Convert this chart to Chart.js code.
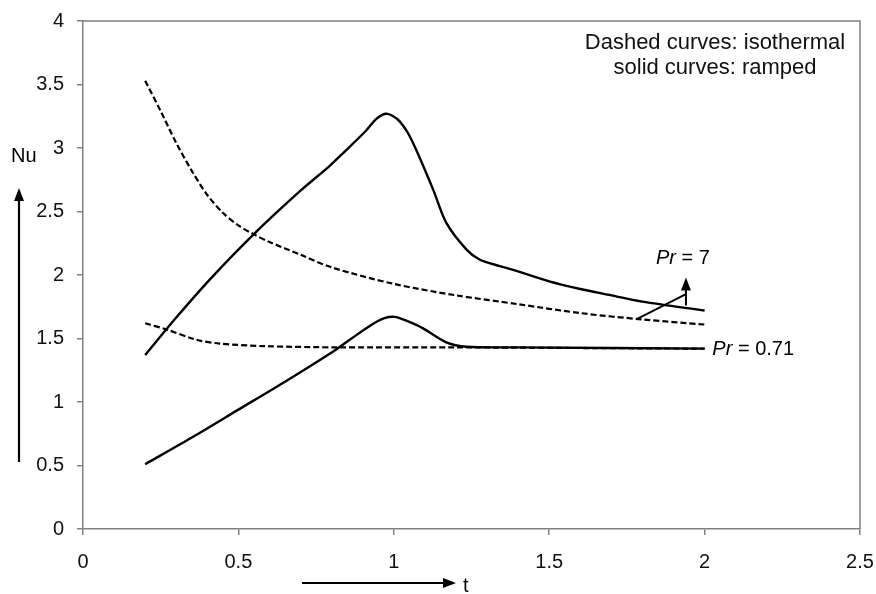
<!DOCTYPE html>
<html>
<head>
<meta charset="utf-8">
<script src="https://cdn.jsdelivr.net/npm/chart.js@4.4.1/dist/chart.umd.min.js"></script>
<style>
  html, body { margin: 0; padding: 0; background: #fff; }
  #wrap { width: 876px; height: 594px; }
</style>
</head>
<body>
<div id="wrap"><canvas id="nuChart" width="876" height="594"></canvas></div>
<script>
/* ---- data ---- */
// isothermal (dashed), Pr = 7
const tIsoPr7  = [0.2, 0.25, 0.3, 0.35, 0.4, 0.45, 0.5, 0.55, 0.6, 0.7, 0.8, 1.0, 1.2, 1.4, 1.6, 1.8, 2.0];
const nuIsoPr7 = [3.53, 3.29, 3.04, 2.82, 2.63, 2.49, 2.39, 2.32, 2.26, 2.16, 2.06, 1.93, 1.84, 1.77, 1.70, 1.65, 1.61];
// isothermal (dashed), Pr = 0.71
const tIsoPr071  = [0.2, 0.27, 0.365, 0.44, 0.58, 0.826, 1.2, 1.6, 2.0];
const nuIsoPr071 = [1.62, 1.57, 1.49, 1.46, 1.44, 1.43, 1.43, 1.425, 1.42];
// ramped (solid), Pr = 7
const tRampPr7  = [0.2, 0.3, 0.41, 0.553, 0.698, 0.794, 0.837, 0.912, 0.944, 0.974, 0.998, 1.019, 1.045, 1.073, 1.127, 1.169, 1.234, 1.277, 1.341, 1.384, 1.5, 1.6, 1.7, 1.8, 2.0];
const nuRampPr7 = [1.37, 1.665, 1.97, 2.33, 2.66, 2.86, 2.96, 3.14, 3.23, 3.27, 3.25, 3.21, 3.12, 2.98, 2.67, 2.41, 2.20, 2.12, 2.07, 2.04, 1.95, 1.89, 1.84, 1.79, 1.72];
// ramped (solid), Pr = 0.71
const tRampPr071  = [0.2, 0.35, 0.5, 0.65, 0.8, 0.858, 0.93, 0.97, 1.003, 1.04, 1.094, 1.169, 1.234, 1.4, 2.0];
const nuRampPr071 = [0.51, 0.72, 0.94, 1.16, 1.39, 1.49, 1.61, 1.66, 1.67, 1.64, 1.58, 1.47, 1.435, 1.43, 1.42];

const xTicks = [0, 0.5, 1, 1.5, 2, 2.5];
const yTicks = [0, 0.5, 1, 1.5, 2, 2.5, 3, 3.5, 4];

const FONT = '"Liberation Sans", Arial, sans-serif';
const AXIS_GRAY = '#808080';

function pts(xs, ys) {
    return xs.map((x, i) => ({ x: x, y: ys[i] }));
}

function curve(label, xs, ys, dashed) {
    return {
        label: label,
        data: pts(xs, ys),
        borderColor: '#000',
        borderWidth: dashed ? 2.2 : 2.4,
        borderDash: dashed ? [6, 3] : [],
        pointRadius: 0,
        fill: false,
        tension: 0.3
    };
}

function arrowHead(ctx, x, y, dir) {
    // dir: 'up' or 'right'
    ctx.beginPath();
    if (dir === 'up') {
        ctx.moveTo(x, y);
        ctx.lineTo(x - 5, y + 13);
        ctx.lineTo(x + 5, y + 13);
    } else {
        ctx.moveTo(x, y);
        ctx.lineTo(x - 13, y - 5);
        ctx.lineTo(x - 13, y + 5);
    }
    ctx.closePath();
    ctx.fill();
}

const decorations = {
    id: 'decorations',
    afterDraw(chart) {
        const ctx = chart.ctx;
        const a = chart.chartArea;
        const xs = chart.scales.x, ys = chart.scales.y;
        ctx.save();

        // frame top + right
        ctx.strokeStyle = AXIS_GRAY;
        ctx.lineWidth = 1.5;
        ctx.beginPath();
        ctx.moveTo(a.left, a.top);
        ctx.lineTo(a.right, a.top);
        ctx.lineTo(a.right, a.bottom);
        ctx.stroke();

        ctx.fillStyle = '#111';
        ctx.strokeStyle = '#000';

        // note in the corner
        ctx.font = '22px ' + FONT;
        ctx.textAlign = 'center';
        ctx.textBaseline = 'middle';
        const cx = a.right - 145;
        ctx.fillText('Dashed curves: isothermal', cx, a.top + 22);
        ctx.fillText('solid curves: ramped', cx, a.top + 47);

        // Pr = 7 pointer
        ctx.fillStyle = '#000';
        ctx.lineWidth = 2;
        ctx.beginPath();
        ctx.moveTo(xs.getPixelForValue(1.78), ys.getPixelForValue(1.65));
        ctx.lineTo(xs.getPixelForValue(1.94), ys.getPixelForValue(1.85));
        ctx.moveTo(xs.getPixelForValue(1.94), ys.getPixelForValue(1.76));
        ctx.lineTo(xs.getPixelForValue(1.94), ys.getPixelForValue(1.92));
        ctx.stroke();
        arrowHead(ctx, xs.getPixelForValue(1.94), ys.getPixelForValue(1.98), 'up');

        // Pr labels
        const prLabel = (x, y, rest, align) => {
            ctx.textBaseline = 'middle';
            ctx.font = 'italic 20px ' + FONT;
            const w1 = ctx.measureText('Pr').width;
            ctx.font = '20px ' + FONT;
            const w2 = ctx.measureText(rest).width;
            let x0 = align === 'center' ? x - (w1 + w2) / 2 : x;
            ctx.textAlign = 'left';
            ctx.font = 'italic 20px ' + FONT;
            ctx.fillText('Pr', x0, y);
            ctx.font = '20px ' + FONT;
            ctx.fillText(rest, x0 + w1, y);
        };
        prLabel(xs.getPixelForValue(1.93), ys.getPixelForValue(2.13), ' = 7', 'center');
        prLabel(xs.getPixelForValue(2.025), ys.getPixelForValue(1.41), ' = 0.71', 'left');

        // axis titles with arrows
        ctx.lineWidth = 2.2;
        ctx.beginPath();
        ctx.moveTo(19, 462);
        ctx.lineTo(19, 198);
        ctx.stroke();
        arrowHead(ctx, 19, 188, 'up');

        ctx.beginPath();
        ctx.moveTo(302, 583);
        ctx.lineTo(445, 583);
        ctx.stroke();
        arrowHead(ctx, 456, 583, 'right');

        ctx.font = '20px ' + FONT;
        ctx.textAlign = 'left';
        ctx.textBaseline = 'middle';
        ctx.fillText('t', 463, 586);
        ctx.fillText('Nu', 11, 156);

        ctx.restore();
    }
};

const ctx = document.getElementById('nuChart').getContext('2d');
new Chart(ctx, {
    type: 'line',
    data: {
        datasets: [
            curve('isothermal Pr=7', tIsoPr7, nuIsoPr7, true),
            curve('isothermal Pr=0.71', tIsoPr071, nuIsoPr071, true),
            curve('ramped Pr=7', tRampPr7, nuRampPr7, false),
            curve('ramped Pr=0.71', tRampPr071, nuRampPr071, false)
        ]
    },
    options: {
        responsive: false,
        animation: false,
        layout: { padding: { left: 0, right: 16, top: 21, bottom: 0 } },
        plugins: { legend: { display: false }, tooltip: { enabled: false } },
        scales: {
            x: {
                type: 'linear',
                min: 0, max: 2.5,
                afterBuildTicks: s => { s.ticks = xTicks.map(v => ({ value: v })); },
                afterFit: s => { s.height = 65; s.paddingLeft = 0; s.paddingRight = 0; },
                border: { display: true, color: AXIS_GRAY, width: 1.5 },
                grid: { drawOnChartArea: false, tickLength: 6, color: AXIS_GRAY, lineWidth: 1.5 },
                ticks: { color: '#111', font: { family: FONT, size: 20 }, padding: 15, maxRotation: 0,
                         callback: v => String(v) }
            },
            y: {
                type: 'linear',
                min: 0, max: 4,
                afterBuildTicks: s => { s.ticks = yTicks.map(v => ({ value: v })); },
                afterFit: s => { s.width = 83; s.paddingTop = 0; s.paddingBottom = 0; },
                border: { display: true, color: AXIS_GRAY, width: 1.5 },
                grid: { drawOnChartArea: false, tickLength: 6, color: AXIS_GRAY, lineWidth: 1.5 },
                ticks: { color: '#111', font: { family: FONT, size: 20 }, padding: 13,
                         callback: v => String(v) }
            }
        }
    },
    plugins: [decorations]
});
</script>
</body>
</html>
